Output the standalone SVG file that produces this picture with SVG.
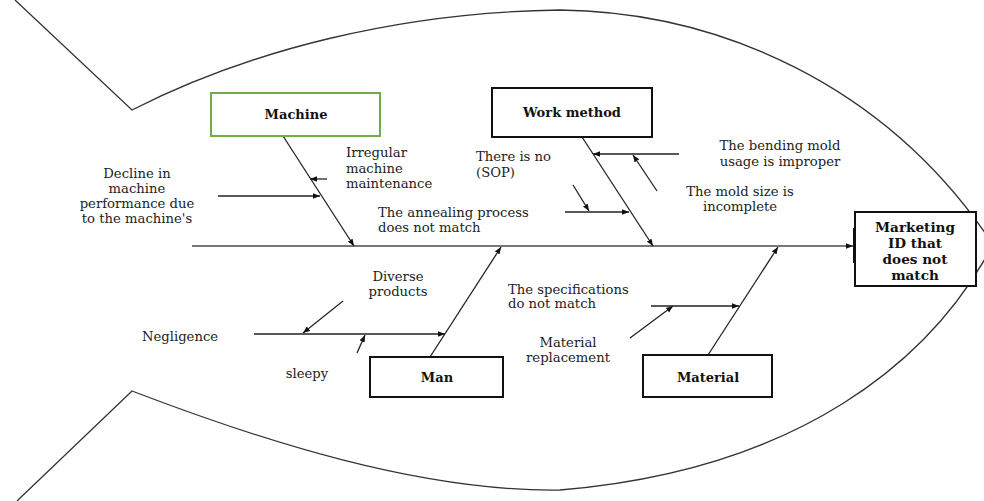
<svg xmlns="http://www.w3.org/2000/svg" width="984" height="501" viewBox="0 0 984 501">
<defs>
<marker id="ah" viewBox="0 0 10 10" refX="10" refY="5" markerWidth="7" markerHeight="7" markerUnits="userSpaceOnUse" orient="auto">
<path d="M0,1 L10,5 L0,9 z" fill="#111"/>
</marker>
</defs>
<style>
.fish{fill:none;stroke:#333;stroke-width:1.3}
.bone{stroke:#222;stroke-width:1.3;fill:none;marker-end:url(#ah)}
.spine{stroke:#777;stroke-width:2.2;fill:none;marker-end:url(#ah)}
.box{fill:#fff;stroke:#111;stroke-width:2}
.t{font-family:"DejaVu Serif","Liberation Serif",serif;font-size:13.2px;fill:#222}
.b{font-family:"DejaVu Serif","Liberation Serif",serif;font-size:13px;font-weight:bold;fill:#111;text-anchor:middle}
.h{font-size:13.6px}
</style>
<rect width="984" height="501" fill="#fff"/>
<g id="fish">
<path class="fish" d="M15,0 L132,110 C250,50 400,12 560,10 C720,12 885,85 990,240"/>
<path class="fish" d="M990,250 C930,360 800,470 560,490 C420,492 260,440 132,391 L17,501"/>
</g>
<g id="connectors">
<line class="spine" x1="192" y1="246" x2="853" y2="246"/>
<line class="bone" x1="283" y1="136" x2="354" y2="246"/>
<line class="bone" x1="327" y1="179" x2="310" y2="179"/>
<line class="bone" x1="218" y1="196" x2="320" y2="196"/>
<line class="bone" x1="582" y1="137" x2="653" y2="246"/>
<line class="bone" x1="679" y1="154" x2="593" y2="154"/>
<line class="bone" x1="657" y1="191" x2="633" y2="155"/>
<line class="bone" x1="565" y1="212" x2="629" y2="212"/>
<line class="bone" x1="573" y1="185" x2="589" y2="211"/>
<line class="bone" x1="430" y1="357" x2="501" y2="247"/>
<line class="bone" x1="254" y1="334" x2="445" y2="334"/>
<line class="bone" x1="343" y1="301" x2="303" y2="333"/>
<line class="bone" x1="357" y1="353" x2="365" y2="335"/>
<line class="bone" x1="708" y1="355" x2="778" y2="247"/>
<line class="bone" x1="651" y1="306" x2="739" y2="306"/>
<line class="bone" x1="630" y1="338" x2="673" y2="306"/>
</g>
<g id="head">
<rect class="box" x="855" y="212" width="121" height="74"/>
<rect x="853" y="228" width="3" height="35" fill="#111"/>
<text class="b h" x="915" y="232">Marketing</text>
<text class="b h" x="915" y="248">ID that</text>
<text class="b h" x="915" y="264">does not</text>
<text class="b h" x="915" y="280">match</text>
</g>
<g id="machine">
<rect x="211" y="93" width="169" height="43" fill="#fff" stroke="#70ad47" stroke-width="2"/>
<text class="b" x="296" y="119">Machine</text>
</g>
<g id="work-method">
<rect class="box" x="492" y="88" width="160" height="49"/>
<text class="b" x="572" y="117">Work method</text>
</g>
<g id="man">
<rect class="box" x="370" y="357" width="133" height="40"/>
<text class="b" x="437" y="382">Man</text>
</g>
<g id="material">
<rect class="box" x="643" y="355" width="129" height="42"/>
<text class="b" x="708" y="382">Material</text>
</g>
<g id="labels">
<text class="t" x="346" y="157">Irregular</text>
<text class="t" x="346" y="173">machine</text>
<text class="t" x="346" y="188">maintenance</text>
<text class="t" x="137" y="178" text-anchor="middle">Decline in</text>
<text class="t" x="137" y="193" text-anchor="middle">machine</text>
<text class="t" x="137" y="208" text-anchor="middle">performance due</text>
<text class="t" x="137" y="223" text-anchor="middle">to the machine's</text>
<text class="t" x="378" y="217">The annealing process</text>
<text class="t" x="378" y="232">does not match</text>
<text class="t" x="476" y="161">There is no</text>
<text class="t" x="476" y="177">(SOP)</text>
<text class="t" x="780" y="150" text-anchor="middle">The bending mold</text>
<text class="t" x="780" y="166" text-anchor="middle">usage is improper</text>
<text class="t" x="740" y="196" text-anchor="middle">The mold size is</text>
<text class="t" x="740" y="211" text-anchor="middle">incomplete</text>
<text class="t" x="398" y="281" text-anchor="middle">Diverse</text>
<text class="t" x="398" y="296" text-anchor="middle">products</text>
<text class="t" x="180" y="341" text-anchor="middle">Negligence</text>
<text class="t" x="307" y="378" text-anchor="middle">sleepy</text>
<text class="t" x="508" y="294">The specifications</text>
<text class="t" x="508" y="308">do not match</text>
<text class="t" x="568" y="347" text-anchor="middle">Material</text>
<text class="t" x="568" y="362" text-anchor="middle">replacement</text>
</g>
</svg>
